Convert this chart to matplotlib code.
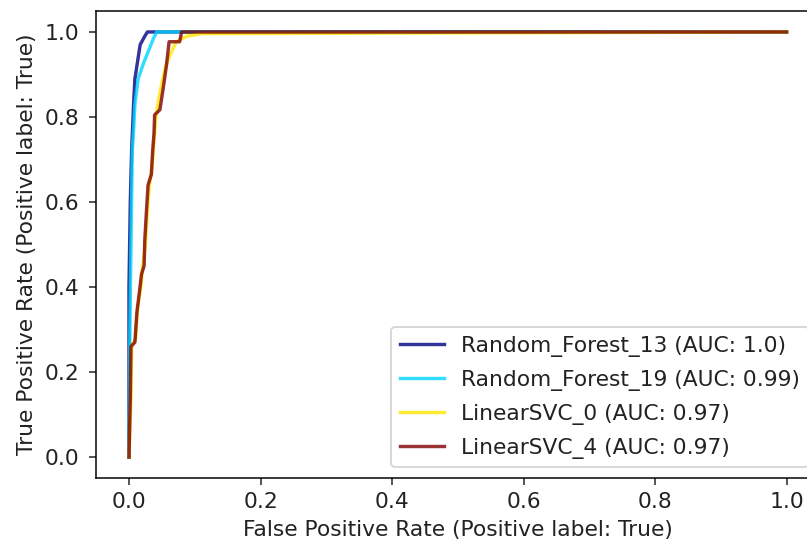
import numpy as np
import matplotlib.pyplot as plt

# ROC points
rf13_fpr = [0, 0.000, 0.002, 0.004, 0.007, 0.009, 0.012, 0.017, 0.024, 0.028, 1.0]
rf13_tpr = [0, 0.40, 0.60, 0.72, 0.83, 0.89, 0.92, 0.97, 0.99, 1.0, 1.0]

rf19_fpr = [0, 0.001, 0.003, 0.005, 0.007, 0.009, 0.014, 0.022, 0.029, 0.037, 0.042, 1.0]
rf19_tpr = [0, 0.25, 0.50, 0.72, 0.77, 0.83, 0.89, 0.926, 0.953, 0.984, 1.0, 1.0]

svc0_fpr = [0, 0.003, 0.004, 0.010, 0.013, 0.018, 0.021, 0.025, 0.028, 0.031, 0.035,
            0.038, 0.041, 0.045, 0.050, 0.056, 0.062, 0.072, 0.088, 0.11, 1.0]
svc0_tpr = [0, 0.14, 0.26, 0.28, 0.35, 0.40, 0.45, 0.50, 0.58, 0.64, 0.68,
            0.74, 0.80, 0.84, 0.88, 0.92, 0.945, 0.977, 0.99, 0.996, 1.0]

svc4_fpr = [0, 0.002, 0.003, 0.009, 0.012, 0.016, 0.019, 0.023, 0.024, 0.027, 0.029,
            0.034, 0.036, 0.038, 0.039, 0.047, 0.052, 0.057, 0.061, 0.077, 0.080, 1.0]
svc4_tpr = [0, 0.14, 0.26, 0.27, 0.34, 0.39, 0.43, 0.45, 0.51, 0.59, 0.64,
            0.665, 0.72, 0.76, 0.805, 0.817, 0.867, 0.922, 0.977, 0.977, 1.0, 1.0]

names = ["Random_Forest_13", "Random_Forest_19", "LinearSVC_0", "LinearSVC_4"]
aucs = ["1.0", "0.99", "0.97", "0.97"]

curves = [(rf13_fpr, rf13_tpr), (rf19_fpr, rf19_tpr),
          (svc0_fpr, svc0_tpr), (svc4_fpr, svc4_tpr)]
colors = plt.cm.jet(np.linspace(0, 1, len(curves)))

plt.rcParams['font.size'] = 11.5
plt.rcParams['text.color'] = '#222222'
plt.rcParams['xtick.color'] = '#222222'
plt.rcParams['ytick.color'] = '#222222'
plt.rcParams['axes.labelcolor'] = '#222222'
plt.rcParams['xtick.major.pad'] = 4.0
plt.rcParams['ytick.major.pad'] = 5.5

fig = plt.figure(figsize=(807/136, 541/136), dpi=136)
ax = fig.add_axes([0.1191, 0.1159, 0.8963, 0.8643])

for (fpr, tpr), name, auc, c in zip(curves, names, aucs, colors):
    ax.plot(fpr, tpr, color=c, alpha=0.8, lw=1.8, label=f"{name} (AUC: {auc})")

ax.set_xlim(-0.05, 1.05)
ax.set_ylim(-0.05, 1.05)
ax.set_xlabel("False Positive Rate (Positive label: True)")
ax.set_ylabel("True Positive Rate (Positive label: True)")
ax.legend(loc="lower right", labelspacing=0.6)

fig.savefig("out.png", dpi=136)
